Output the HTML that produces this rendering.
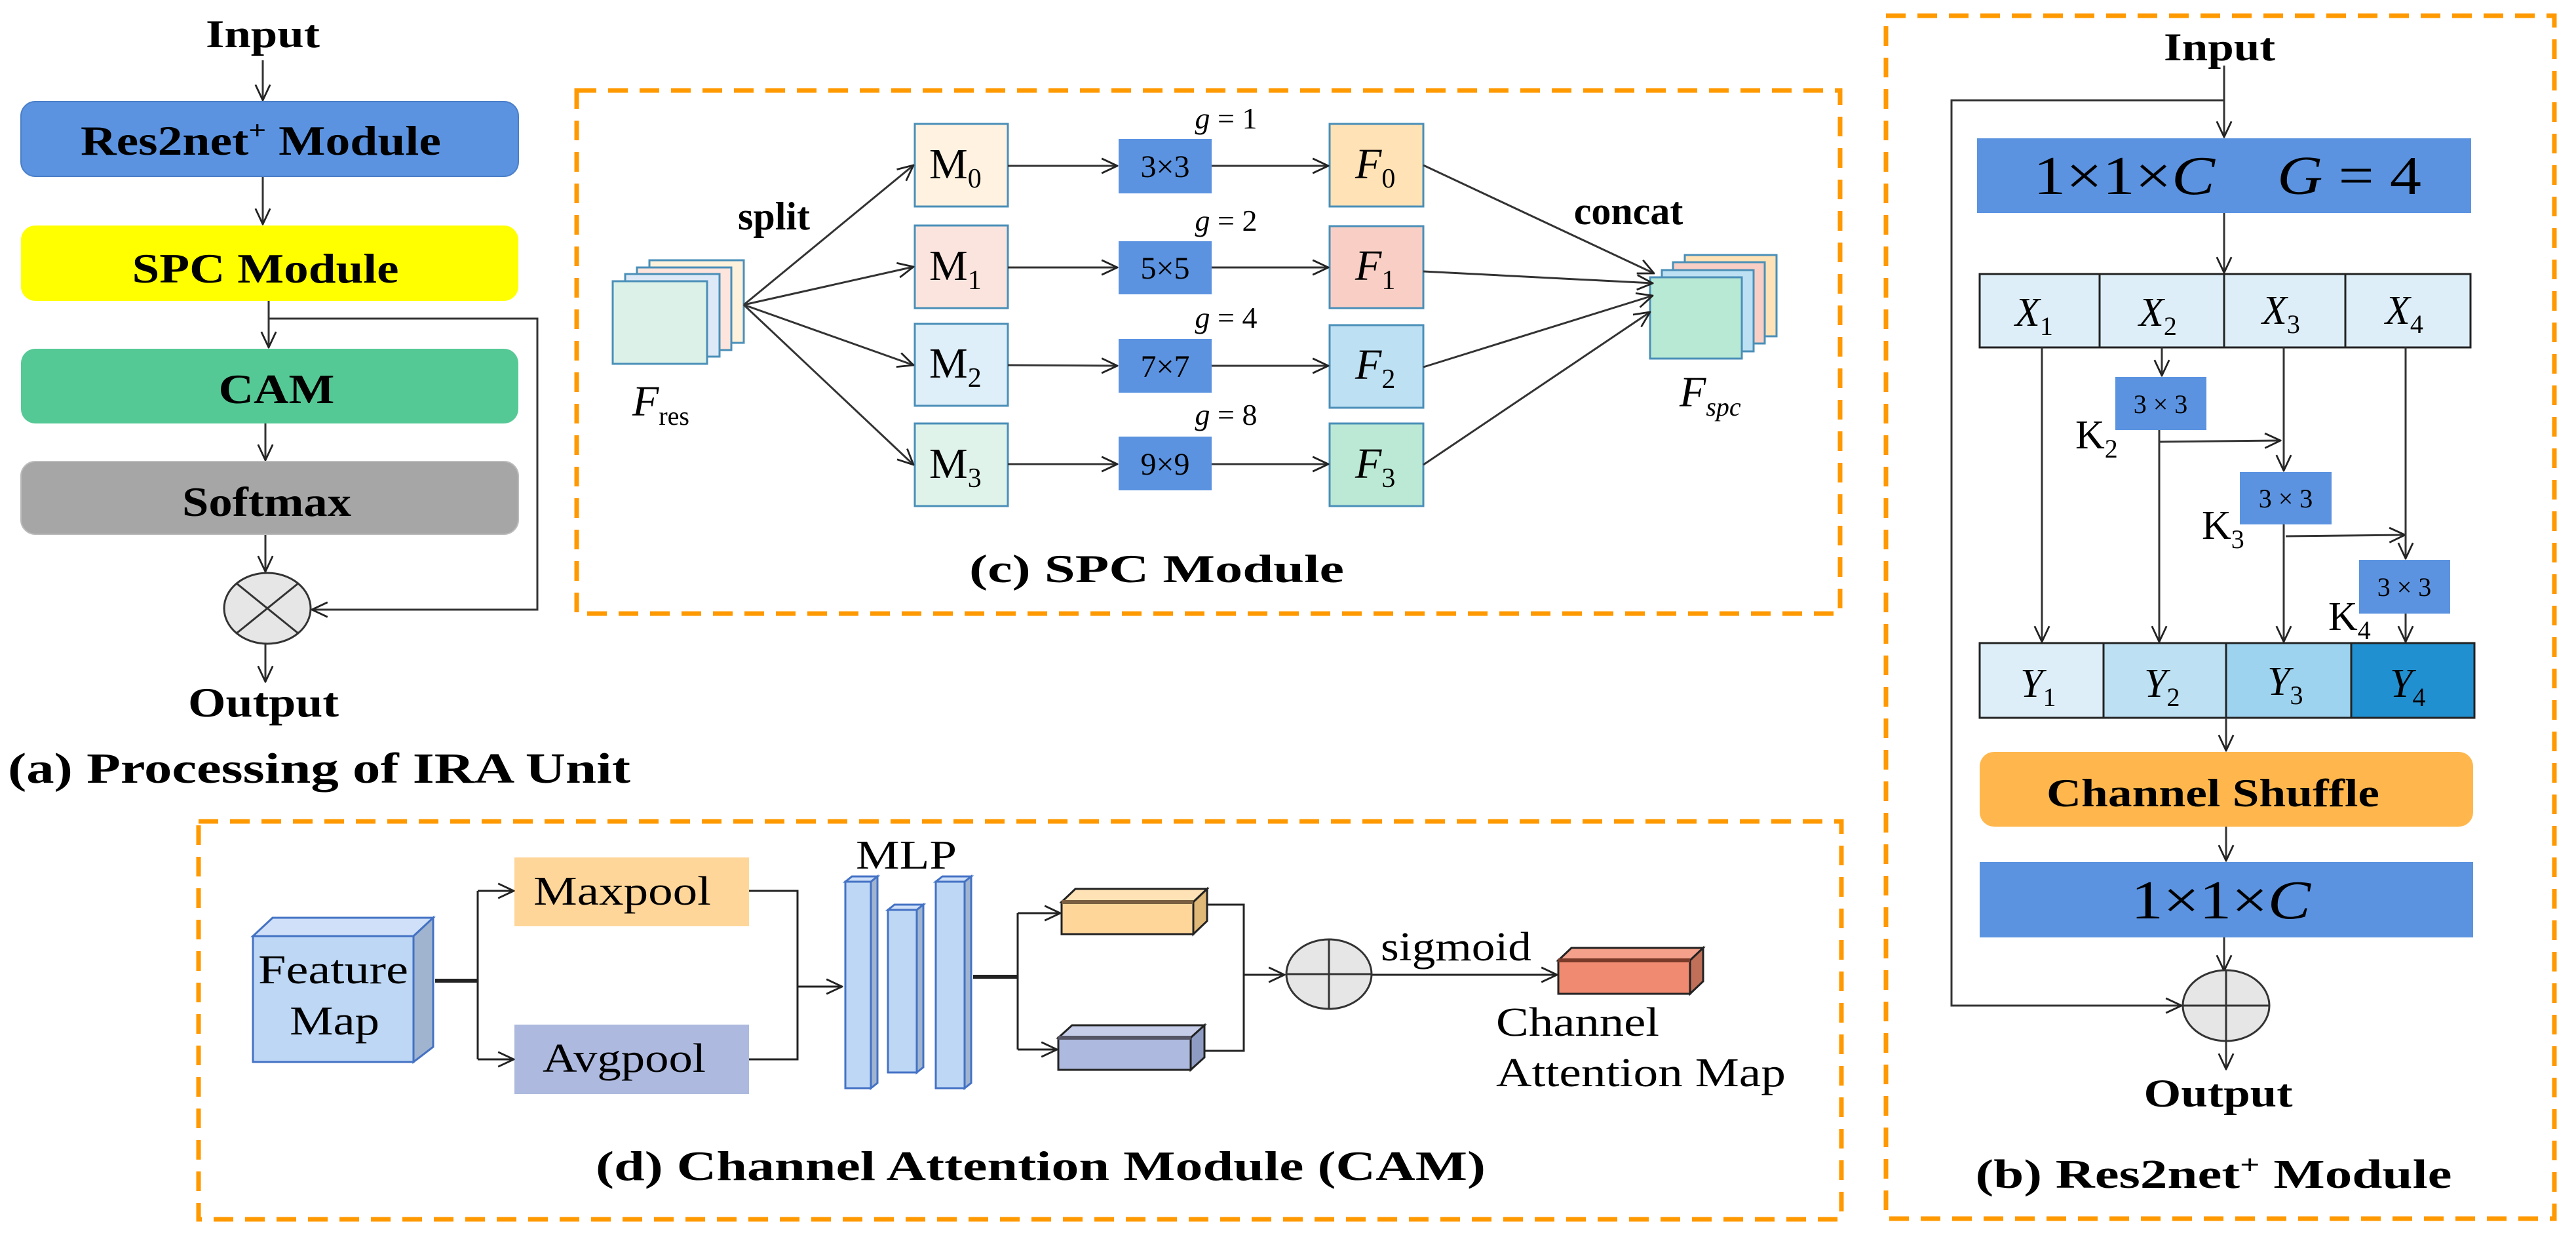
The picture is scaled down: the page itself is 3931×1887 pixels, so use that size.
<!DOCTYPE html>
<html><head><meta charset="utf-8"><style>
html,body{margin:0;padding:0;background:#fff;}
svg{display:block;}
text{font-family:"Liberation Serif",serif;fill:#000;}
.b{font-weight:bold;}
.i{font-style:italic;}
</style></head><body>
<svg width="3931" height="1887" viewBox="0 0 3931 1887" xmlns="http://www.w3.org/2000/svg">
<defs>
<marker id="a" viewBox="0 0 20 20" refX="19" refY="10" markerWidth="28" markerHeight="28" markerUnits="userSpaceOnUse" orient="auto">
<path d="M2,2 L19,10 L2,18" fill="none" stroke="#222" stroke-width="2"/></marker>
</defs>

<!-- ===== Panel (a) ===== -->
<text class="b" x="401" y="72" font-size="60" text-anchor="middle" textLength="174" lengthAdjust="spacingAndGlyphs">Input</text>
<g stroke="#333" stroke-width="3" fill="none" marker-end="url(#a)">
<line x1="401" y1="92" x2="401" y2="153"/>
<line x1="401" y1="269" x2="401" y2="342"/>
<line x1="410" y1="459" x2="410" y2="530"/>
<line x1="405" y1="646" x2="405" y2="702"/>
<line x1="405" y1="815" x2="405" y2="872"/>
<line x1="405" y1="982" x2="405" y2="1040"/>
<polyline points="410,486 820,486 820,930 476,930"/>
</g>
<rect x="32" y="155" width="759" height="114" rx="22" fill="#5b93e1" stroke="#4a7fc8" stroke-width="2"/>
<text class="b" x="398" y="236" font-size="64" text-anchor="middle" textLength="550" lengthAdjust="spacingAndGlyphs">Res2net<tspan font-size="40" dy="-24">+</tspan><tspan dy="24"> Module</tspan></text>
<rect x="32" y="344" width="759" height="115" rx="22" fill="#ffff00"/>
<text class="b" x="405" y="431" font-size="64" text-anchor="middle" textLength="407" lengthAdjust="spacingAndGlyphs">SPC Module</text>
<rect x="32" y="532" width="759" height="114" rx="22" fill="#55c995"/>
<text class="b" x="422" y="615" font-size="64" text-anchor="middle" textLength="177" lengthAdjust="spacingAndGlyphs">CAM</text>
<rect x="32" y="704" width="759" height="111" rx="22" fill="#a6a6a6" stroke="#bbb" stroke-width="2"/>
<text class="b" x="407" y="787" font-size="64" text-anchor="middle" textLength="258" lengthAdjust="spacingAndGlyphs">Softmax</text>
<ellipse cx="408" cy="928" rx="66" ry="54" fill="#e6e6e6" stroke="#333" stroke-width="3"/>
<line x1="361" y1="890" x2="455" y2="966" stroke="#333" stroke-width="3"/>
<line x1="455" y1="890" x2="361" y2="966" stroke="#333" stroke-width="3"/>
<text class="b" x="402" y="1093" font-size="64" text-anchor="middle" textLength="230" lengthAdjust="spacingAndGlyphs">Output</text>
<text class="b" x="12" y="1194" font-size="66" textLength="950" lengthAdjust="spacingAndGlyphs">(a) Processing of IRA Unit</text>

<!-- ===== Panel (c) ===== -->
<rect x="880" y="138" width="1928" height="798" fill="none" stroke="#ff9900" stroke-width="7" stroke-dasharray="30 18"/>
<g stroke="#4a8fb8" stroke-width="3">
<rect x="991" y="397" width="144" height="126" fill="#fff2dc"/>
<rect x="972" y="408" width="144" height="126" fill="#fde4dc"/>
<rect x="954" y="418" width="144" height="126" fill="#dde9f7"/>
<rect x="935" y="429" width="144" height="126" fill="#dcf2e8"/>
<rect x="2571" y="389" width="140" height="124" fill="#ffe2b5"/>
<rect x="2553" y="400" width="140" height="124" fill="#f9cfc5"/>
<rect x="2536" y="412" width="140" height="124" fill="#bde0f3"/>
<rect x="2518" y="423" width="140" height="124" fill="#b8e9d4"/>
<rect x="1396" y="189" width="142" height="126" fill="#fff2e0"/>
<rect x="1396" y="344" width="142" height="126" fill="#fce4de"/>
<rect x="1396" y="494" width="142" height="125" fill="#deeff9"/>
<rect x="1396" y="646" width="142" height="126" fill="#dff3ea"/>
<rect x="2029" y="189" width="143" height="126" fill="#ffe2b5"/>
<rect x="2029" y="345" width="143" height="125" fill="#f9cfc5"/>
<rect x="2029" y="496" width="143" height="126" fill="#bde0f3"/>
<rect x="2029" y="646" width="143" height="126" fill="#bce9d5"/>
</g>
<g fill="#5b93e0">
<rect x="1707" y="212" width="142" height="83"/>
<rect x="1707" y="368" width="142" height="81"/>
<rect x="1707" y="517" width="142" height="82"/>
<rect x="1707" y="666" width="142" height="82"/>
</g>
<g stroke="#333" stroke-width="3" fill="none" marker-end="url(#a)">
<line x1="1135" y1="465" x2="1394" y2="252"/>
<line x1="1135" y1="465" x2="1394" y2="407"/>
<line x1="1135" y1="465" x2="1394" y2="557"/>
<line x1="1135" y1="465" x2="1394" y2="709"/>
<line x1="1538" y1="253" x2="1705" y2="253"/>
<line x1="1538" y1="408" x2="1705" y2="408"/>
<line x1="1538" y1="557" x2="1705" y2="558"/>
<line x1="1538" y1="708" x2="1705" y2="708"/>
<line x1="1849" y1="253" x2="2027" y2="253"/>
<line x1="1849" y1="408" x2="2027" y2="408"/>
<line x1="1849" y1="558" x2="2027" y2="558"/>
<line x1="1849" y1="708" x2="2027" y2="708"/>
<line x1="2172" y1="252" x2="2524" y2="417"/>
<line x1="2172" y1="414" x2="2522" y2="432"/>
<line x1="2172" y1="560" x2="2522" y2="451"/>
<line x1="2172" y1="709" x2="2518" y2="476"/>
</g>
<g font-size="48" text-anchor="middle" fill="#111">
<text x="1778" y="270">3×3</text>
<text x="1778" y="425">5×5</text>
<text x="1778" y="575">7×7</text>
<text x="1778" y="724">9×9</text>
</g>
<g font-size="46" text-anchor="middle">
<text x="1871" y="196"><tspan class="i">g</tspan> = 1</text>
<text x="1871" y="352"><tspan class="i">g</tspan> = 2</text>
<text x="1871" y="500"><tspan class="i">g</tspan> = 4</text>
<text x="1871" y="648"><tspan class="i">g</tspan> = 8</text>
</g>
<g font-size="66">
<text x="1418" y="272">M<tspan font-size="42" dy="14">0</tspan></text>
<text x="1418" y="427">M<tspan font-size="42" dy="14">1</tspan></text>
<text x="1418" y="576">M<tspan font-size="42" dy="14">2</tspan></text>
<text x="1418" y="729">M<tspan font-size="42" dy="14">3</tspan></text>
<text class="i" x="2068" y="272">F<tspan font-size="42" dy="14" font-style="normal">0</tspan></text>
<text class="i" x="2068" y="427">F<tspan font-size="42" dy="14" font-style="normal">1</tspan></text>
<text class="i" x="2068" y="578">F<tspan font-size="42" dy="14" font-style="normal">2</tspan></text>
<text class="i" x="2068" y="729">F<tspan font-size="42" dy="14" font-style="normal">3</tspan></text>
<text class="i" x="965" y="634">F<tspan font-size="40" dy="14" font-style="normal">res</tspan></text>
<text class="i" x="2563" y="620">F<tspan font-size="40" dy="14">spc</tspan></text>
</g>
<text class="b" x="1181" y="350" font-size="60" text-anchor="middle">split</text>
<text class="b" x="2485" y="342" font-size="60" text-anchor="middle">concat</text>
<text class="b" x="1765" y="888" font-size="60" text-anchor="middle" textLength="572" lengthAdjust="spacingAndGlyphs">(c) SPC Module</text>

<!-- ===== Panel (b) ===== -->
<rect x="2878" y="24" width="1020" height="1835" fill="none" stroke="#ff9900" stroke-width="7" stroke-dasharray="30 18"/>
<text class="b" x="3387" y="92" font-size="60" text-anchor="middle" textLength="170" lengthAdjust="spacingAndGlyphs">Input</text>
<rect x="3017" y="211" width="754" height="114" fill="#5b93e0"/>
<text x="3103" y="296" font-size="84" textLength="277" lengthAdjust="spacingAndGlyphs">1×1×<tspan class="i">C</tspan></text>
<text x="3475" y="296" font-size="84" textLength="220" lengthAdjust="spacingAndGlyphs"><tspan class="i">G</tspan> = 4</text>
<g stroke="#222" stroke-width="3">
<rect x="3021" y="418" width="749" height="112" fill="#ddeef8"/>
<line x1="3204" y1="418" x2="3204" y2="530"/>
<line x1="3394" y1="418" x2="3394" y2="530"/>
<line x1="3579" y1="418" x2="3579" y2="530"/>
<rect x="3021" y="981" width="189" height="114" fill="#ddeef8"/>
<rect x="3210" y="981" width="187" height="114" fill="#bde0f3"/>
<rect x="3397" y="981" width="191" height="114" fill="#9dd3ee"/>
<rect x="3588" y="981" width="188" height="114" fill="#2090d0"/>
</g>
<g fill="#5b93e0">
<rect x="3228" y="575" width="139" height="81"/>
<rect x="3418" y="720" width="140" height="80"/>
<rect x="3600" y="854" width="139" height="82"/>
</g>
<g stroke="#333" stroke-width="3" fill="none" marker-end="url(#a)">
<polyline points="3394,100 3394,153 2978,153 2978,1534 3329,1534"/>
<line x1="3394" y1="130" x2="3394" y2="209"/>
<line x1="3394" y1="325" x2="3394" y2="416"/>
<line x1="3116" y1="530" x2="3116" y2="979"/>
<line x1="3299" y1="530" x2="3299" y2="573"/>
<line x1="3295" y1="656" x2="3295" y2="979"/>
<line x1="3295" y1="674" x2="3480" y2="672"/>
<line x1="3485" y1="530" x2="3485" y2="718"/>
<line x1="3485" y1="800" x2="3485" y2="979"/>
<line x1="3488" y1="818" x2="3670" y2="816"/>
<line x1="3671" y1="530" x2="3671" y2="852"/>
<line x1="3671" y1="936" x2="3671" y2="979"/>
<line x1="3397" y1="1095" x2="3397" y2="1145"/>
<line x1="3397" y1="1261" x2="3397" y2="1313"/>
<line x1="3394" y1="1430" x2="3394" y2="1481"/>
<line x1="3397" y1="1588" x2="3397" y2="1631"/>
</g>
<g font-size="40" text-anchor="middle" fill="#111">
<text x="3297" y="630">3 × 3</text>
<text x="3488" y="774">3 × 3</text>
<text x="3669" y="909">3 × 3</text>
</g>
<g font-size="62">
<text x="3167" y="684">K<tspan font-size="40" dy="14">2</tspan></text>
<text x="3360" y="822">K<tspan font-size="40" dy="14">3</tspan></text>
<text x="3553" y="961">K<tspan font-size="40" dy="14">4</tspan></text>
</g>
<g font-size="62" class="i">
<text x="3075" y="497">X<tspan font-size="40" dy="14" font-style="normal">1</tspan></text>
<text x="3264" y="497">X<tspan font-size="40" dy="14" font-style="normal">2</tspan></text>
<text x="3452" y="494">X<tspan font-size="40" dy="14" font-style="normal">3</tspan></text>
<text x="3640" y="494">X<tspan font-size="40" dy="14" font-style="normal">4</tspan></text>
<text x="3083" y="1063">Y<tspan font-size="40" dy="14" font-style="normal">1</tspan></text>
<text x="3272" y="1063">Y<tspan font-size="40" dy="14" font-style="normal">2</tspan></text>
<text x="3460" y="1060">Y<tspan font-size="40" dy="14" font-style="normal">3</tspan></text>
<text x="3647" y="1063">Y<tspan font-size="40" dy="14" font-style="normal">4</tspan></text>
</g>
<rect x="3021" y="1147" width="753" height="114" rx="22" fill="#ffb74d"/>
<text class="b" x="3377" y="1230" font-size="60" text-anchor="middle" textLength="508" lengthAdjust="spacingAndGlyphs">Channel Shuffle</text>
<rect x="3021" y="1315" width="753" height="115" fill="#5b93e0"/>
<text x="3389" y="1401" font-size="84" text-anchor="middle" textLength="274" lengthAdjust="spacingAndGlyphs">1×1×<tspan class="i">C</tspan></text>
<ellipse cx="3397" cy="1534" rx="66" ry="54" fill="#e6e6e6" stroke="#333" stroke-width="3"/>
<line x1="3331" y1="1534" x2="3463" y2="1534" stroke="#333" stroke-width="3"/>
<line x1="3397" y1="1480" x2="3397" y2="1588" stroke="#333" stroke-width="3"/>
<text class="b" x="3385" y="1688" font-size="60" text-anchor="middle" textLength="227" lengthAdjust="spacingAndGlyphs">Output</text>
<text class="b" x="3378" y="1812" font-size="62" text-anchor="middle" textLength="727" lengthAdjust="spacingAndGlyphs">(b) Res2net<tspan font-size="40" dy="-22">+</tspan><tspan dy="22"> Module</tspan></text>

<!-- ===== Panel (d) ===== -->
<rect x="303" y="1253" width="2507" height="607" fill="none" stroke="#ff9900" stroke-width="7" stroke-dasharray="30 18"/>
<g stroke="#4472c4" stroke-width="3">
<polygon points="386,1428 631,1428 661,1400 416,1400" fill="#cfe0f8"/>
<polygon points="631,1428 661,1400 661,1597 631,1620" fill="#a0b4d0"/>
<rect x="386" y="1428" width="245" height="192" fill="#bdd7f5"/>
<polygon points="1290,1345 1329,1345 1339,1337 1300,1337" fill="#cfe0f8"/>
<rect x="1290" y="1345" width="39" height="315" fill="#bdd7f5"/>
<polygon points="1329,1345 1339,1337 1339,1652 1329,1660" fill="#a0b4d0"/>
<polygon points="1355,1388 1399,1388 1409,1380 1365,1380" fill="#cfe0f8"/>
<rect x="1355" y="1388" width="44" height="248" fill="#bdd7f5"/>
<polygon points="1399,1388 1409,1380 1409,1628 1399,1636" fill="#a0b4d0"/>
<polygon points="1428,1345 1472,1345 1482,1337 1438,1337" fill="#cfe0f8"/>
<rect x="1428" y="1345" width="44" height="315" fill="#bdd7f5"/>
<polygon points="1472,1345 1482,1337 1482,1652 1472,1660" fill="#a0b4d0"/>
</g>
<text x="394" y="1500" font-size="62" textLength="229" lengthAdjust="spacingAndGlyphs">Feature</text>
<text x="442" y="1578" font-size="62" textLength="137" lengthAdjust="spacingAndGlyphs">Map</text>
<rect x="785" y="1308" width="358" height="105" fill="#ffd699"/>
<text x="814" y="1380" font-size="62" textLength="271" lengthAdjust="spacingAndGlyphs">Maxpool</text>
<rect x="785" y="1563" width="358" height="106" fill="#adb9de"/>
<text x="828" y="1635" font-size="62" textLength="249" lengthAdjust="spacingAndGlyphs">Avgpool</text>
<text x="1306" y="1325" font-size="62" textLength="154" lengthAdjust="spacingAndGlyphs">MLP</text>
<g stroke="#222" stroke-width="3" fill="none">
<line x1="664" y1="1496" x2="729" y2="1496" stroke-width="6"/>
<line x1="729" y1="1359" x2="729" y2="1616"/>
<line x1="729" y1="1359" x2="784" y2="1359" marker-end="url(#a)"/>
<line x1="729" y1="1616" x2="784" y2="1616" marker-end="url(#a)"/>
<polyline points="1143,1359 1217,1359 1217,1616 1143,1616"/>
<line x1="1217" y1="1505" x2="1285" y2="1505" marker-end="url(#a)"/>
<line x1="1485" y1="1490" x2="1553" y2="1490" stroke-width="6"/>
<line x1="1553" y1="1393" x2="1553" y2="1601"/>
<line x1="1553" y1="1393" x2="1618" y2="1393" marker-end="url(#a)"/>
<line x1="1553" y1="1601" x2="1613" y2="1601" marker-end="url(#a)"/>
<polyline points="1840,1380 1898,1380 1898,1603 1836,1603"/>
<line x1="1898" y1="1487" x2="1960" y2="1487" marker-end="url(#a)"/>
<line x1="2092" y1="1487" x2="2376" y2="1487" marker-end="url(#a)"/>
</g>
<g stroke="#222" stroke-width="3">
<polygon points="1620,1376 1821,1376 1842,1356 1641,1356" fill="#ffe2b5"/>
<polygon points="1821,1376 1842,1356 1842,1405 1821,1425" fill="#e0b878"/>
<rect x="1620" y="1376" width="201" height="49" fill="#ffd699"/>
<line x1="1620" y1="1376" x2="1821" y2="1376" stroke="#7a6040" stroke-width="6"/>
<polygon points="1615,1583 1817,1583 1838,1564 1636,1564" fill="#c5cde8"/>
<polygon points="1817,1583 1838,1564 1838,1613 1817,1632" fill="#8e9cc4"/>
<rect x="1615" y="1583" width="202" height="49" fill="#adb9de"/>
<line x1="1615" y1="1583" x2="1817" y2="1583" stroke="#556" stroke-width="6"/>
<polygon points="2378,1465 2579,1465 2599,1446 2398,1446" fill="#f4a08a"/>
<polygon points="2579,1465 2599,1446 2599,1497 2579,1516" fill="#c07058"/>
<rect x="2378" y="1465" width="201" height="51" fill="#f08a70"/>
<line x1="2378" y1="1465" x2="2579" y2="1465" stroke="#7a3a2a" stroke-width="6"/>
</g>
<ellipse cx="2028" cy="1486" rx="65" ry="53" fill="#e6e6e6" stroke="#333" stroke-width="3"/>
<line x1="1963" y1="1486" x2="2093" y2="1486" stroke="#333" stroke-width="3"/>
<line x1="2028" y1="1433" x2="2028" y2="1539" stroke="#333" stroke-width="3"/>
<text x="2107" y="1465" font-size="62" textLength="230" lengthAdjust="spacingAndGlyphs">sigmoid</text>
<text x="2283" y="1580" font-size="62" textLength="249" lengthAdjust="spacingAndGlyphs">Channel</text>
<text x="2283" y="1657" font-size="62" textLength="442" lengthAdjust="spacingAndGlyphs">Attention Map</text>
<text class="b" x="1588" y="1800" font-size="64" text-anchor="middle" textLength="1358" lengthAdjust="spacingAndGlyphs">(d) Channel Attention Module (CAM)</text>
</svg>
</body></html>
